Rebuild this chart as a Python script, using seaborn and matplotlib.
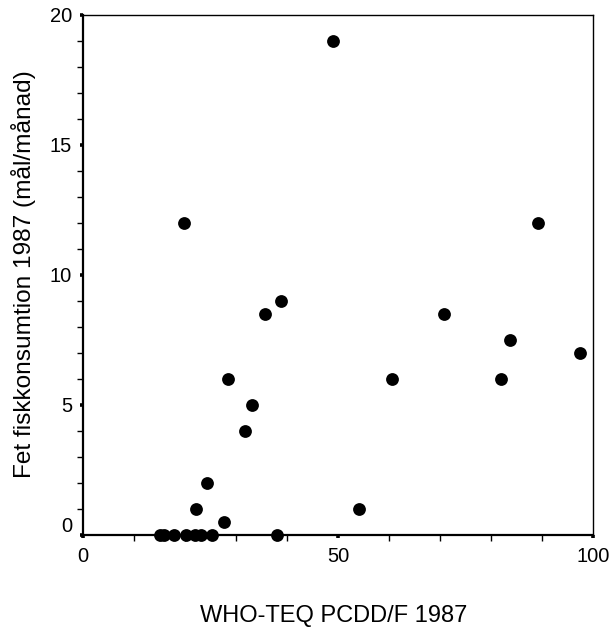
import matplotlib
matplotlib.use("Agg")
import matplotlib.pyplot as plt
import matplotlib.transforms as mtransforms
from matplotlib.ticker import MultipleLocator, FixedLocator
import numpy as np
import pandas as pd
import seaborn as sns

# WHO-TEQ PCDD/F 1987 and fatty-fish consumption (meals per month)
who_teq = [15.0, 15.8, 17.8, 20.1, 21.9, 23.0, 25.3, 38.0,
           27.6, 22.1, 24.2, 31.7, 33.0, 28.3, 19.7, 35.6, 38.7,
           48.9, 54.0, 60.5, 82.0, 70.8, 89.1, 83.7, 97.3]
fish_meals = [0, 0, 0, 0, 0, 0, 0, 0,
              0.5, 1, 2, 4, 5, 6, 12, 8.5, 9,
              19, 1, 6, 6, 8.5, 12, 7.5, 7]

x_ticks = [0, 50, 100]
y_ticks = [0, 5, 10, 15, 20]
x_label = "WHO-TEQ PCDD/F 1987"
y_label = "Fet fiskkonsumtion 1987 (mål/månad)"

df = pd.DataFrame({"teq": who_teq, "fisk": fish_meals})

sns.set_theme(style="ticks")
plt.rcParams["font.family"] = ["Liberation Sans", "DejaVu Sans"]

fig = plt.figure(figsize=(6.09, 6.30), dpi=100)
ax = fig.add_axes([0.1368, 0.1508, 0.8374, 0.8254])

sns.scatterplot(data=df, x="teq", y="fisk", ax=ax, color="black",
                s=85, linewidth=0, clip_on=False, zorder=5)

ax.set_xlim(0, 100)
ax.set_ylim(0, 20)
ax.xaxis.set_major_locator(FixedLocator(x_ticks))
ax.yaxis.set_major_locator(FixedLocator(y_ticks))
ax.xaxis.set_minor_locator(MultipleLocator(10))
ax.yaxis.set_minor_locator(MultipleLocator(1))

for side in ["left", "bottom"]:
    ax.spines[side].set_linewidth(1.6)
for side in ["top", "right"]:
    ax.spines[side].set_visible(True)
    ax.spines[side].set_linewidth(1.0)
for s in ax.spines.values():
    s.set_color("black")

ax.tick_params(which="major", direction="out", length=2, width=2.6,
               color="black", labelsize=14.5, labelcolor="black")
ax.tick_params(axis="y", which="major", pad=6)
ax.tick_params(axis="x", which="major", pad=7)
ax.tick_params(which="minor", direction="out", length=4.5, width=1.0,
               color="black")

ax.set_xlabel(x_label, fontsize=17, color="black")
ax.set_ylabel(y_label, fontsize=17.6, color="black")
ax.xaxis.set_label_coords(0.49, -0.135)
ax.yaxis.set_label_coords(-0.093, 0.502)

# lift the y-axis "0" so it clears the x-axis "0"
zero_tick = ax.yaxis.get_major_ticks()[0]
zero_tick.label1.set_transform(
    zero_tick.label1.get_transform()
    + mtransforms.ScaledTranslation(0, 0.1, fig.dpi_scale_trans))

fig.savefig("out.png", dpi=100, facecolor="white")
